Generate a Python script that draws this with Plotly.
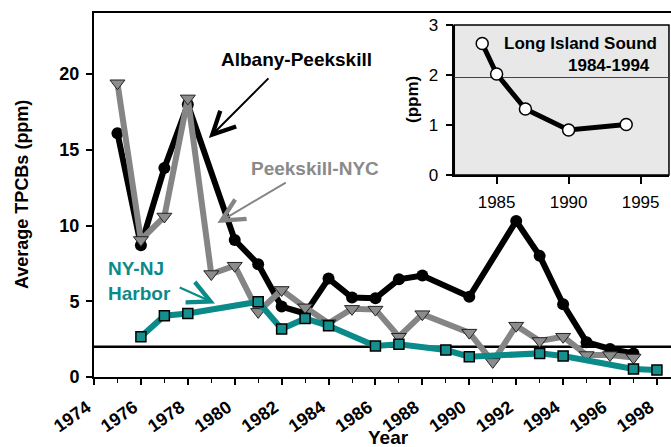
import plotly.graph_objects as go

# ---- data ----
albany_years = [1975, 1976, 1977, 1978, 1980, 1981, 1982, 1983, 1984, 1985, 1986, 1987, 1988, 1990, 1992, 1993, 1994, 1995, 1996, 1997]
albany_vals = [16.1, 8.7, 13.8, 18.0, 9.05, 7.45, 4.65, 4.2, 6.5, 5.25, 5.2, 6.45, 6.7, 5.3, 10.3, 8.0, 4.8, 2.3, 1.85, 1.55]

peek_years = [1975, 1976, 1977, 1978, 1979, 1980, 1981, 1982, 1983, 1984, 1985, 1986, 1987, 1988, 1990, 1991, 1992, 1993, 1994, 1995, 1996, 1997]
peek_vals = [19.4, 9.05, 10.6, 18.4, 6.8, 7.35, 4.3, 5.75, 4.6, 3.55, 4.5, 4.45, 2.66, 4.15, 2.93, 1.0, 3.39, 2.38, 2.66, 1.45, 1.45, 1.28]

harbor_years = [1976, 1977, 1978, 1981, 1982, 1983, 1984, 1986, 1987, 1989, 1990, 1993, 1994, 1997, 1998]
harbor_vals = [2.66, 4.05, 4.2, 4.97, 3.17, 3.87, 3.38, 2.05, 2.16, 1.78, 1.34, 1.56, 1.39, 0.53, 0.46]

lis_years = [1984, 1985, 1987, 1990, 1994]
lis_vals = [2.63, 2.02, 1.32, 0.9, 1.01]

main_xticks = list(range(1974, 1999, 2))
main_yticks = [0, 5, 10, 15, 20]
inset_xticks = [1985, 1990, 1995]
inset_yticks = [0, 1, 2, 3]
threshold_main = 2.0
threshold_inset = 1.95

FONT = "Arial, Liberation Sans, sans-serif"
TEAL = "#0b8a8a"
GRAY = "#858585"

fig = go.Figure()

fig.add_trace(go.Scatter(
    x=albany_years, y=albany_vals, mode="lines+markers",
    line=dict(color="black", width=6),
    marker=dict(symbol="circle", size=12, color="black"),
    showlegend=False, cliponaxis=False))

fig.add_trace(go.Scatter(
    x=peek_years, y=peek_vals, mode="lines+markers",
    line=dict(color=GRAY, width=6),
    marker=dict(symbol="triangle-down", size=13, color="#8c8c8c",
                line=dict(color="#222222", width=1)),
    showlegend=False, cliponaxis=False))

fig.add_trace(go.Scatter(
    x=harbor_years, y=harbor_vals, mode="lines+markers",
    line=dict(color=TEAL, width=6),
    marker=dict(symbol="square", size=10, color="#15908f",
                line=dict(color="black", width=1.5)),
    showlegend=False, cliponaxis=False))

# inset
fig.add_trace(go.Scatter(
    x=lis_years, y=lis_vals, mode="lines+markers",
    xaxis="x2", yaxis="y2",
    line=dict(color="black", width=5),
    marker=dict(symbol="circle", size=12, color="white",
                line=dict(color="black", width=1.5)),
    showlegend=False, cliponaxis=False))

main_axis_font = dict(family=FONT, size=18, color="black", weight="bold")
inset_font = dict(family=FONT, size=17, color="black")

fig.update_layout(
    width=671, height=447,
    margin=dict(l=94, r=0, t=13, b=70),
    plot_bgcolor="rgba(0,0,0,0)", paper_bgcolor="white",
    font=dict(family=FONT),
    xaxis=dict(
        range=[1974, 1998.6], tickvals=main_xticks, ticktext=[str(v) for v in main_xticks],
        tickangle=-35, tickfont=main_axis_font,
        showline=True, linecolor="black", linewidth=2, mirror=True,
        ticks="outside", ticklen=6, tickwidth=1.5, tickcolor="black",
        minor=dict(dtick=1, tick0=1974, ticks="outside", ticklen=4, tickcolor="black", tickwidth=1),
        showgrid=False, zeroline=False, ticklabelstandoff=5, ticklabelshift=-7,
    ),
    yaxis=dict(
        range=[0, 24.04], tickvals=main_yticks, tickfont=main_axis_font,
        showline=True, linecolor="black", linewidth=2,
        ticks="outside", ticklen=6, tickwidth=1.5, tickcolor="black",
        showgrid=False, zeroline=False, ticklabelstandoff=3,
    ),
    xaxis2=dict(
        domain=[0.6244, 0.9965], anchor="y2", range=[1982.06, 1996.97],
        tickvals=inset_xticks, tickfont=inset_font,
        showline=True, linecolor="black", linewidth=1.5,
        ticks="outside", ticklen=7, tickcolor="black", tickwidth=1.5,
        showgrid=False, zeroline=False, ticklabelstandoff=4,
    ),
    yaxis2=dict(
        domain=[0.555, 0.967], anchor="x2", range=[0, 3],
        tickvals=inset_yticks, tickfont=inset_font,
        showline=True, linecolor="black", linewidth=1.5,
        ticks="outside", ticklen=7, tickcolor="black", tickwidth=1.5,
        showgrid=False, zeroline=False, ticklabelstandoff=4,
    ),
    shapes=[
        dict(type="rect", xref="x2 domain", yref="y2 domain", x0=0, x1=1, y0=0, y1=1,
             fillcolor="#e8e8e8", line=dict(color="black", width=1.5), layer="below"),
        dict(type="line", xref="x2 domain", yref="y2", x0=0, x1=1,
             y0=threshold_inset, y1=threshold_inset,
             line=dict(color="#444444", width=1.2), layer="below"),
        dict(type="line", xref="x domain", yref="y", x0=0, x1=1,
             y0=threshold_main, y1=threshold_main,
             line=dict(color="black", width=2.5), layer="below"),
    ],
)

ann = []
# axis titles
ann.append(dict(text="Average TPCBs (ppm)", xref="paper", yref="paper",
                x=(22 - 94) / 577, y=0.5, textangle=-90, showarrow=False,
                font=dict(family=FONT, size=18, color="black", weight="bold"),
                xanchor="center", yanchor="middle"))
ann.append(dict(text="Year", xref="paper", yref="paper",
                x=(388 - 94) / 577, y=(377 - 437) / 364, showarrow=False,
                font=dict(family=FONT, size=19, color="black", weight="bold"),
                xanchor="center", yanchor="middle"))
# series labels
ann.append(dict(text="Albany-Peekskill", xref="x", yref="y",
                x=1974 + (297 - 94) / 23.46, y=(377 - 60) / 15.14, showarrow=False,
                font=dict(family=FONT, size=19, color="black", weight="bold"),
                xanchor="center", yanchor="middle"))
ann.append(dict(text="Peekskill-NYC", xref="x", yref="y",
                x=1974 + (315 - 94) / 23.46, y=(377 - 169) / 15.14, showarrow=False,
                font=dict(family=FONT, size=19, color="#8a8a8a", weight="bold"),
                xanchor="center", yanchor="middle"))
ann.append(dict(text="NY-NJ<br>Harbor", xref="x", yref="y",
                x=1974 + (106 - 94) / 23.46, y=(377 - 281) / 15.14, showarrow=False,
                align="left",
                font=dict(family=FONT, size=19, color=TEAL, weight="bold"),
                xanchor="left", yanchor="middle"))
# arrows (head -> x,y ; tail -> ax,ay)
ann.append(dict(text="", xref="x", yref="y", axref="x", ayref="y",
                x=1978.90, y=15.79, ax=1981.50, ay=19.82,
                showarrow=True, arrowhead=5, arrowsize=2.2, arrowwidth=2, arrowcolor="black"))
ann.append(dict(text="", xref="x", yref="y", axref="x", ayref="y",
                x=1979.26, y=10.17, ax=1982.24, ay=12.90,
                showarrow=True, arrowhead=5, arrowsize=2.2, arrowwidth=2, arrowcolor=GRAY))
ann.append(dict(text="", xref="x", yref="y", axref="x", ayref="y",
                x=1979.16, y=4.86, ax=1977.59, ay=5.96,
                showarrow=True, arrowhead=5, arrowsize=2.0, arrowwidth=2.2, arrowcolor=TEAL))
# inset labels
ann.append(dict(text="Long Island Sound", xref="paper", yref="paper",
                x=(659 - 94) / 577, y=(377 - 43) / 364, showarrow=False,
                font=dict(family=FONT, size=17, color="black", weight="bold"),
                xanchor="right", yanchor="middle"))
ann.append(dict(text="1984-1994", xref="paper", yref="paper",
                x=(652 - 94) / 577, y=(377 - 65) / 364, showarrow=False,
                font=dict(family=FONT, size=17, color="black", weight="bold"),
                xanchor="right", yanchor="middle"))
ann.append(dict(text="(ppm)", xref="paper", yref="paper",
                x=(412 - 94) / 577, y=(377 - 100) / 364, textangle=-90, showarrow=False,
                font=dict(family=FONT, size=17, color="black", weight="bold"),
                xanchor="center", yanchor="middle"))
fig.update_layout(annotations=ann)

fig.write_html(
    "out.html",
    config={"displayModeBar": False},
    post_script="document.body.style.margin='0';document.body.style.padding='0';document.body.style.overflow='hidden';",
)
